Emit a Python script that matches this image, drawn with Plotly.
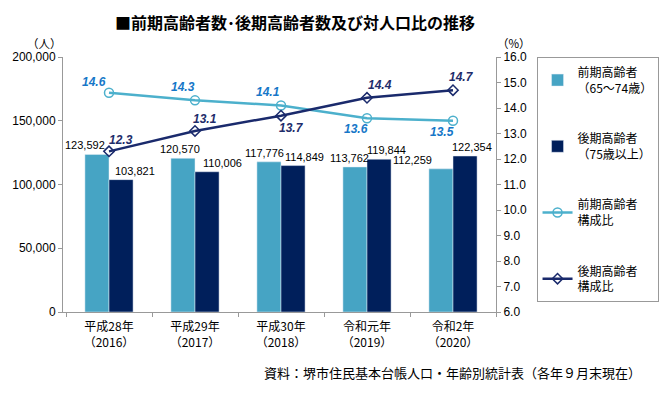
import plotly.graph_objects as go

categories = ["平成28年<br>（2016）", "平成29年<br>（2017）", "平成30年<br>（2018）", "令和元年<br>（2019）", "令和2年<br>（2020）"]
early_elderly = [123592, 120570, 117776, 113762, 112259]
late_elderly = [103821, 110006, 114849, 119844, 122354]
early_ratio = [14.6, 14.3, 14.1, 13.6, 13.5]
late_ratio = [12.3, 13.1, 13.7, 14.4, 14.7]

left_ticks = [0, 50000, 100000, 150000, 200000]
right_ticks = [6, 7, 8, 9, 10, 11, 12, 13, 14, 15, 16]

# label offsets (pixels) - styling only
early_bar_dx = [-12, -3, -5, -6, -29]
late_bar_dx = [14, 15, 11, 7, 7]
early_ratio_off = [(-15, 11), (-12, 13), (-13, 13), (-11, -11), (-11, -11)]
late_ratio_off = [(12, 11), (10, 12), (10, -12), (13, 13), (8, 13)]

C_LIGHT = "#46A4C4"
C_DARK = "#001F5B"
C_LLINE = "#4CB0CC"
C_DLINE = "#1A2A6C"
C_LTXT = "#1677C8"
C_DTXT = "#1F2D6B"
FONT = "Noto Sans CJK JP"

fig = go.Figure()
fig.add_trace(go.Bar(x=categories, y=early_elderly, name="前期高齢者<br>（65〜74歳）",
                     marker_color=C_LIGHT, legendgroup="a"))
fig.add_trace(go.Bar(x=categories, y=late_elderly, name="後期高齢者<br>（75歳以上）",
                     marker_color=C_DARK, legendgroup="b"))
fig.add_trace(go.Scatter(x=categories, y=early_ratio, name="前期高齢者<br>構成比", yaxis="y2",
                         mode="lines+markers", line=dict(color=C_LLINE, width=2.5),
                         marker=dict(symbol="circle-open", size=9, color=C_LLINE, line=dict(width=1.5)),
                         legendgroup="c"))
fig.add_trace(go.Scatter(x=categories, y=late_ratio, name="後期高齢者<br>構成比", yaxis="y2",
                         mode="lines+markers", line=dict(color=C_DLINE, width=2.5),
                         marker=dict(symbol="diamond-open", size=8, color=C_DLINE, line=dict(width=1.5)),
                         legendgroup="d"))

ann = []
for i, c in enumerate(categories):
    ann.append(dict(x=c, y=early_elderly[i], xref="x", yref="y", text=f"{early_elderly[i]:,}",
                    showarrow=False, xshift=early_bar_dx[i] - 12, yshift=9,
                    font=dict(size=11, color="#000", family="Liberation Sans")))
    ann.append(dict(x=c, y=late_elderly[i], xref="x", yref="y", text=f"{late_elderly[i]:,}",
                    showarrow=False, xshift=late_bar_dx[i] + 12, yshift=9,
                    font=dict(size=11, color="#000", family="Liberation Sans")))
    dx, dy = early_ratio_off[i]
    ann.append(dict(x=c, y=early_ratio[i], xref="x", yref="y2", text=f"<b><i>{early_ratio[i]:.1f}</i></b>",
                    showarrow=False, xshift=dx, yshift=dy,
                    font=dict(size=12, color=C_LTXT, family="Liberation Sans")))
    dx, dy = late_ratio_off[i]
    ann.append(dict(x=c, y=late_ratio[i], xref="x", yref="y2", text=f"<b><i>{late_ratio[i]:.1f}</i></b>",
                    showarrow=False, xshift=dx, yshift=dy,
                    font=dict(size=12, color=C_DTXT, family="Liberation Sans")))

# texts placed by pixel position in the 670x397 picture
L, R, T, B, W, H = 63, 169, 57, 85, 670, 397
pw, ph = W - L - R, H - T - B
pix_texts = [
    dict(x=298, y=22, text="<b>■前期高齢者数･後期高齢者数及び対人口比の推移</b>", size=16, anchor="center"),
    dict(x=44, y=43, text="（人）", size=11.5, anchor="center"),
    dict(x=519, y=43, text="（%）", size=11.5, anchor="center"),
    dict(x=650, y=372, text="資料：堺市住民基本台帳人口・年齢別統計表（各年９月末現在）", size=13, anchor="right"),
]
for p in pix_texts:
    ann.append(dict(x=(p["x"] - L) / pw, y=(H - B - p["y"]) / ph, xref="paper", yref="paper",
                    text=p["text"], showarrow=False, xanchor=p["anchor"], yanchor="middle",
                    font=dict(size=p["size"], color="#000", family=FONT)))

fig.update_layout(
    width=W, height=H,
    margin=dict(l=L, r=R, t=T, b=B),
    paper_bgcolor="white", plot_bgcolor="white",
    font=dict(family=FONT, size=12, color="#000"),
    barmode="group", bargap=0.44, bargroupgap=0,
    showlegend=True,
    legend=dict(x=(542 - L) / pw, y=1, xanchor="left", yanchor="top",
                bordercolor="#999", borderwidth=1, font=dict(size=12, family=FONT),
                tracegroupgap=32, traceorder="grouped", itemwidth=30),
    xaxis=dict(showline=True, linecolor="#999", ticks="outside", tickson="boundaries",
               ticklen=4, tickcolor="#999", ticklabelstandoff=4, tickfont=dict(size=12, family=FONT)),
    yaxis=dict(range=[0, 200000], tickvals=left_ticks, tickformat=",", showgrid=False,
               showline=True, linecolor="#999", ticks="outside", ticklen=4, tickcolor="#999",
               zeroline=False, tickfont=dict(size=12, family="Liberation Sans")),
    yaxis2=dict(range=[6, 16], tickvals=right_ticks, tickformat=".1f", overlaying="y", side="right",
                showgrid=False, showline=True, linecolor="#999", ticks="outside", ticklen=4,
                tickcolor="#999", zeroline=False, tickfont=dict(size=12, family="Liberation Sans")),
    annotations=ann,
)

fig.write_html("out.html", config={"displayModeBar": False},
               post_script="document.body.style.margin='0';document.body.style.padding='0';")
